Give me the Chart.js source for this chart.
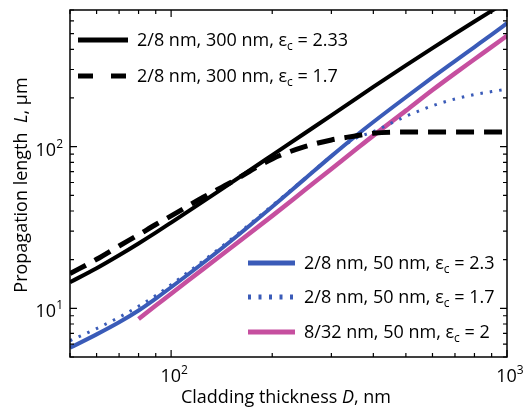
<!DOCTYPE html>
<html>
<head>
<meta charset="utf-8">
<script src="https://cdn.jsdelivr.net/npm/chart.js@4"></script>
<style>
  html, body { margin: 0; padding: 0; background: #fff; }
</style>
</head>
<body>
<canvas id="chart" width="525" height="411"></canvas>
<script>
// Cladding thickness D (nm)
const thickness = [50, 60, 70, 80, 90, 100, 125, 150, 200, 250, 300, 350, 400, 500, 600, 700, 800, 900, 1000];

// Propagation length L (µm)
const len300eps233 = [14.5, 17.7, 21.3, 25.2, 29.4, 33.9, 46.0, 59.3, 88.6, 121, 156, 194, 234, 318, 407, 499, 594, 691, 790];
const len300eps17 = [16.4, 20.1, 24.3, 28.5, 33.0, 37.3, 48.8, 59.8, 84, 100, 110, 116, 121, 123, 123, 123, 123, 123, 123];
const len50eps23 = [5.7, 6.9, 8.2, 9.7, 11.5, 13.5, 19.2, 25.9, 42.5, 63.2, 87.4, 114, 142, 202, 268, 338, 413, 493, 580];
const len50eps17 = [6.3, 7.5, 8.8, 10.3, 12.0, 14.0, 19.8, 26.5, 43.2, 63.5, 87.5, 111, 124, 154, 179, 197, 210, 219, 227];
const len50eps2 = [null, null, null, 8.6, 10.4, 12.3, 17.6, 23.5, 37.3, 53.9, 72.8, 93.9, 117, 167, 224, 284, 347, 414, 485];

// legend labels: [text, subscript, text]
const legendLabels = [
  ['2/8 nm, 300 nm, ε', 'c', ' = 2.33'],
  ['2/8 nm, 300 nm, ε', 'c', ' = 1.7'],
  ['2/8 nm, 50 nm, ε', 'c', ' = 2.3'],
  ['2/8 nm, 50 nm, ε', 'c', ' = 1.7'],
  ['8/32 nm, 50 nm, ε', 'c', ' = 2']
];

// axis ticks
const xTickValues = [50, 60, 70, 80, 90, 100, 200, 300, 400, 500, 600, 700, 800, 900, 1000];
const yTickValues = [5, 6, 7, 8, 9, 10, 20, 30, 40, 50, 60, 70, 80, 90, 100, 200, 300, 400, 500, 600, 700];
const xTickLabels = [[100, '2'], [1000, '3']];
const yTickLabels = [[10, '1'], [100, '2']];

const FONT = '"Open Sans", sans-serif';

function pts(ys) {
  return thickness.map((x, i) => ({ x: x, y: ys[i] }));
}

// draw text made of plain / italic / sub / sup pieces
function drawRich(ctx, parts, x, y, align) {
  const fontFor = s => (s === 'i' ? 'italic ' : '') + (s === 'sub' || s === 'sup' ? 12 : 18) + 'px ' + FONT;
  let total = 0;
  parts.forEach(p => { ctx.font = fontFor(p[1]); total += ctx.measureText(p[0]).width; });
  let cx = align === 'center' ? x - total / 2 : align === 'right' ? x - total : x;
  ctx.textAlign = 'left';
  ctx.textBaseline = 'alphabetic';
  parts.forEach(p => {
    ctx.font = fontFor(p[1]);
    const dy = p[1] === 'sub' ? 4 : p[1] === 'sup' ? -8 : 0;
    ctx.fillText(p[0], cx, y + dy);
    cx += ctx.measureText(p[0]).width;
  });
}

const decorPlugin = {
  id: 'decor',
  afterDraw(chart) {
    const ctx = chart.ctx;
    const a = chart.chartArea;
    const xs = chart.scales.x, ys = chart.scales.y;
    ctx.save();
    ctx.strokeStyle = '#000';
    ctx.fillStyle = '#000';

    // frame
    ctx.lineWidth = 1.5;
    ctx.strokeRect(a.left, a.top, a.right - a.left, a.bottom - a.top);

    // inward ticks on all four sides
    ctx.lineWidth = 1.2;
    const isMajor = v => Math.abs(Math.log10(v) - Math.round(Math.log10(v))) < 1e-9;
    xTickValues.forEach(v => {
      const px = xs.getPixelForValue(v);
      const len = isMajor(v) ? 7 : 4;
      ctx.beginPath();
      ctx.moveTo(px, a.bottom); ctx.lineTo(px, a.bottom - len);
      ctx.moveTo(px, a.top); ctx.lineTo(px, a.top + len);
      ctx.stroke();
    });
    yTickValues.forEach(v => {
      const py = ys.getPixelForValue(v);
      const len = isMajor(v) ? 7 : 4;
      ctx.beginPath();
      ctx.moveTo(a.left, py); ctx.lineTo(a.left + len, py);
      ctx.moveTo(a.right, py); ctx.lineTo(a.right - len, py);
      ctx.stroke();
    });

    // tick labels
    xTickLabels.forEach(t => {
      drawRich(ctx, [['10', ''], [t[1], 'sup']], xs.getPixelForValue(t[0]) + 3, a.bottom + 25, 'center');
    });
    yTickLabels.forEach(t => {
      drawRich(ctx, [['10', ''], [t[1], 'sup']], a.left - 7, ys.getPixelForValue(t[0]) + 9, 'right');
    });

    // axis titles
    drawRich(ctx, [['Cladding thickness ', ''], ['D', 'i'], [', nm', '']], 286, 403, 'center');
    ctx.save();
    ctx.translate(27, 185);
    ctx.rotate(-Math.PI / 2);
    drawRich(ctx, [['Propagation length  ', ''], ['L', 'i'], [', µm', '']], 0, 0, 'center');
    ctx.restore();

    // legends
    const rows = [
      { ds: 0, x: 78, y: 40, dash: [] },
      { ds: 1, x: 78, y: 76, dash: [15, 18] },
      { ds: 2, x: 248, y: 263, dash: [] },
      { ds: 3, x: 248, y: 297, dash: [3, 7.5] },
      { ds: 4, x: 248, y: 332, dash: [] }
    ];
    rows.forEach(r => {
      const d = chart.data.datasets[r.ds];
      const w = r.ds < 2 ? 50 : 47;
      ctx.save();
      ctx.strokeStyle = d.borderColor;
      ctx.lineWidth = 5;
      ctx.setLineDash(r.dash);
      ctx.beginPath();
      ctx.moveTo(r.x, r.y); ctx.lineTo(r.x + w, r.y);
      ctx.stroke();
      ctx.restore();
      const lab = legendLabels[r.ds];
      drawRich(ctx, [[lab[0], ''], [lab[1], 'sub'], [lab[2], '']], r.x + w + 9, r.y + 6, 'left');
    });

    ctx.restore();
  }
};

const ctx = document.getElementById('chart').getContext('2d');
new Chart(ctx, {
  type: 'line',
  data: {
    datasets: [
      { data: pts(len300eps233), borderColor: '#000000', borderWidth: 4 },
      { data: pts(len300eps17), borderColor: '#000000', borderWidth: 5, borderDash: [18, 10] },
      { data: pts(len50eps23), borderColor: '#3a5bb8', borderWidth: 4 },
      { data: pts(len50eps17), borderColor: '#3a5bb8', borderWidth: 3, borderDash: [2.5, 7] },
      { data: pts(len50eps2), borderColor: '#c64f9f', borderWidth: 4.5 }
    ]
  },
  options: {
    responsive: false,
    animation: false,
    events: [],
    layout: { padding: { left: 70, top: 10, right: 18, bottom: 54 } },
    elements: {
      point: { radius: 0 },
      line: { cubicInterpolationMode: 'monotone', borderCapStyle: 'butt', fill: false }
    },
    plugins: { legend: { display: false }, tooltip: { enabled: false } },
    scales: {
      x: { type: 'logarithmic', min: 50, max: 1000, display: false },
      y: { type: 'logarithmic', min: 5, max: 700, display: false }
    }
  },
  plugins: [decorPlugin]
});
</script>
</body>
</html>
